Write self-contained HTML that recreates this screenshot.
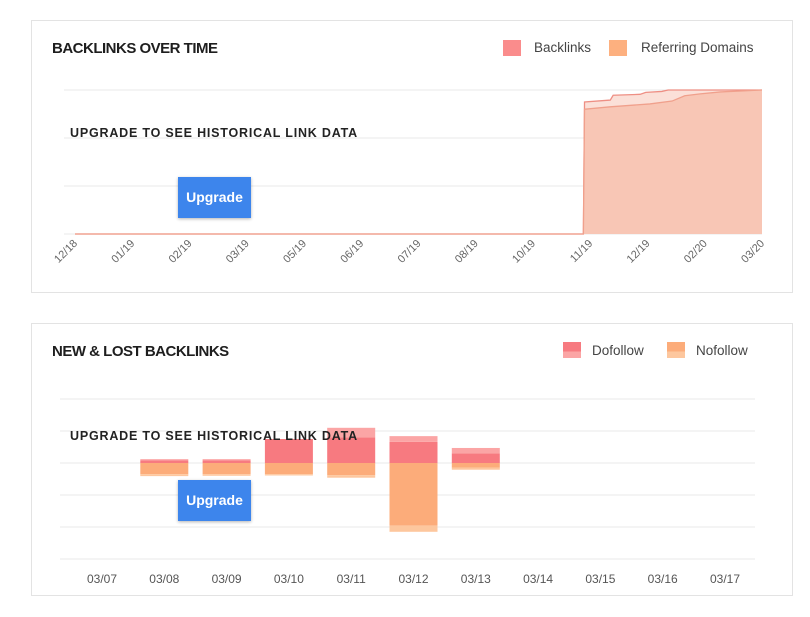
<!DOCTYPE html>
<html><head><meta charset="utf-8"><style>
body{margin:0;width:810px;height:617px;background:#fff;font-family:"Liberation Sans",sans-serif;position:relative;overflow:hidden}
.card{position:absolute;border:1px solid #e3e3e3;background:#fff}
.title{position:absolute;font-weight:bold;font-size:15px;color:#1e1e1e;letter-spacing:-0.5px}
.up{position:absolute;font-weight:bold;font-size:12.5px;color:#222;letter-spacing:0.8px}
.btn{position:absolute;background:#3d85ec;color:#fff;font-weight:bold;font-size:14px;width:73px;height:41px;line-height:41px;text-align:center;box-shadow:0 1px 3px rgba(0,0,0,.3)}
.leg{position:absolute;font-size:13.5px;color:#444}
.sw{position:absolute;width:18px;height:16px}
</style></head><body>
<div class="card" style="left:31px;top:20px;width:760px;height:271px"></div>
<div class="card" style="left:31px;top:323px;width:760px;height:271px"></div>
<div class="title" style="left:52px;top:40px">BACKLINKS OVER TIME</div>
<div class="title" style="left:52px;top:343px">NEW &amp; LOST BACKLINKS</div>
<div class="sw" style="left:503px;top:40px;background:#fa8c8c"></div>
<div class="leg" style="left:534px;top:40px">Backlinks</div>
<div class="sw" style="left:609px;top:40px;background:#fdb07f"></div>
<div class="leg" style="left:641px;top:40px">Referring Domains</div>
<div class="sw" style="left:563px;top:342px;background:linear-gradient(#f77a80 60%,#fba5a5 60%)"></div>
<div class="leg" style="left:592px;top:343px">Dofollow</div>
<div class="sw" style="left:667px;top:342px;background:linear-gradient(#fcac7a 60%,#fdc79e 60%)"></div>
<div class="leg" style="left:696px;top:343px">Nofollow</div>
<svg id="c1" width="810" height="617" style="position:absolute;left:0;top:0"></svg>
<div class="up" style="left:70px;top:126px">UPGRADE TO SEE HISTORICAL LINK DATA</div>
<div class="btn" style="left:178px;top:177px">Upgrade</div>
<div class="up" style="left:70px;top:429px">UPGRADE TO SEE HISTORICAL LINK DATA</div>
<div class="btn" style="left:178px;top:480px">Upgrade</div>
<script>
const dates=["12/18","01/19","02/19","03/19","05/19","06/19","07/19","08/19","10/19","11/19","12/19","02/20","03/20"];
const blX=[0,8.88,8.9,9.35,9.4,9.87,9.97,10.25,10.36,12];
const blY=[0,0,275,279,289,291,295,297,300,300];
const rdX=[0,8.88,8.9,9.35,10.04,10.43,10.65,10.92,11.27,12];
const rdY=[0,0,260,265,271,277,288,292,296,300];
const yTicks=[0,100,200,300];
const days=["03/07","03/08","03/09","03/10","03/11","03/12","03/13","03/14","03/15","03/16","03/17"];
const doNew=[0,0.8,0.8,7.5,8,6.6,3,0,0,0,0];
const doLost=[0,0.4,0.4,0,3,1.8,1.7,0,0,0,0];
const noNew=[0,3.5,3.5,3.5,3.8,19.6,1.5,0,0,0,0];
const noLost=[0,0.6,0.5,0.4,0.8,1.9,0.6,0,0,0,0];
const gTicks=[-30,-20,-10,0,10,20];
const NS="http://www.w3.org/2000/svg";
const svg=document.getElementById('c1');
function mk(t,a){const e=document.createElementNS(NS,t);for(const k in a)e.setAttribute(k,a[k]);svg.appendChild(e);return e;}
const x1=i=>75+i*(687/12), y1=v=>234-v*(144/300);
yTicks.forEach(t=>{const l=mk('line',{x1:64,x2:762,y1:y1(t),y2:y1(t),stroke:'#e8e8e8'});});
function area(X,Y,fill,stroke,name){let d='M'+x1(X[0])+','+y1(0);X.forEach((x,i)=>d+='L'+x1(x)+','+y1(Y[i]));d+='L'+x1(X[X.length-1])+','+y1(0)+'Z';
const p=mk('path',{d:d,fill:fill});
let l='';X.forEach((x,i)=>l+=(i?'L':'M')+x1(x)+','+y1(Y[i]));const q=mk('path',{d:l,fill:'none',stroke:stroke,'stroke-width':1.3});}
area(blX,blY,'#fbe0d8','#ee8f84','backlinks');
area(rdX,rdY,'#f8c6b5','#f0a08c','referring-domains');
dates.forEach((d,i)=>{const t=mk('text',{x:x1(i)+3,y:244,'font-size':11,fill:'#666','text-anchor':'end',transform:`rotate(-45 ${x1(i)+3} 244)`,'font-family':'Liberation Sans'});t.textContent=d;});
const x2=i=>102+i*62.3, y2=v=>463-v*3.2;
gTicks.forEach(t=>{const l=mk('line',{x1:60,x2:755,y1:y2(t),y2:y2(t),stroke:'#e8e8e8'});});
function rect(i,v0,v1,fill,name){if(v1===v0)return;const a=y2(Math.max(v0,v1)),b=y2(Math.min(v0,v1));const r=mk('rect',{x:x2(i)-24,y:a,width:48,height:b-a,fill:fill});}
days.forEach((d,i)=>{
rect(i,0,doNew[i],'#f77a80','bar-dofollow-new');
rect(i,doNew[i],doNew[i]+doLost[i],'#fba5a5','bar-dofollow-lost');
rect(i,0,-noNew[i],'#fcac7a','bar-nofollow-new');
rect(i,-noNew[i],-noNew[i]-noLost[i],'#fdc79e','bar-nofollow-lost');
const t=mk('text',{x:x2(i),y:583,'font-size':12,fill:'#555','text-anchor':'middle','font-family':'Liberation Sans'});t.textContent=d;});
</script>
</body></html>
